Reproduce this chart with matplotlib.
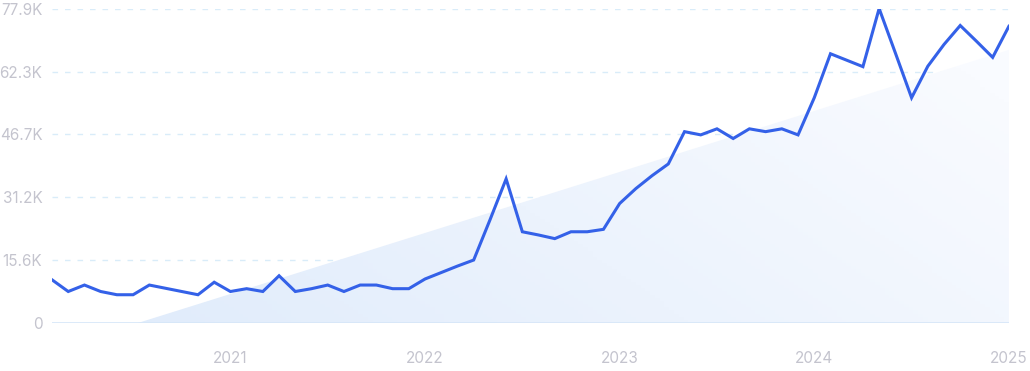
import matplotlib.pyplot as plt
import numpy as np
from matplotlib.patches import Polygon
from matplotlib.colors import LinearSegmentedColormap

plt.rcParams['font.family'] = ['Inter', 'DejaVu Sans']

# monthly values, Feb 2020 .. Jan 2025 (thousands)
months = np.arange(60)
values = [10.7, 7.8, 9.4, 7.8, 7.0, 7.0, 9.4, 8.6, 7.8, 7.0, 10.1,
          7.8, 8.5, 7.8, 11.7, 7.8, 8.5, 9.4, 7.8, 9.4, 9.4, 8.5, 8.5,
          10.9, 12.5, 14.1, 15.6, 25.5, 35.7, 22.6, 21.8, 20.9, 22.6, 22.6, 23.2,
          29.6, 33.3, 36.5, 39.4, 47.4, 46.6, 48.1, 45.7, 48.1, 47.4, 48.1, 46.6,
          55.8, 66.7, 65.1, 63.5, 77.9, 66.9, 55.8, 63.6, 69.0, 73.7, 69.8, 65.8,
          73.5]
year_pos = [11, 23, 35, 47, 59]
year_labels = ['2021', '2022', '2023', '2024', '2025']
ymax = 77.9
yticks = [0, 15.6, 31.2, 46.7, 62.3, 77.9]
ytick_labels = ['0', '15.6K', '31.2K', '46.7K', '62.3K', '77.9K']

vals = np.array(values)

fig = plt.figure(figsize=(10.30, 3.71), dpi=100)
ax = fig.add_axes([0.0505, 0.1294, 0.929, 0.8476])

# trend wedge (linear fit, clipped at zero)
k, b = np.polyfit(months, vals, 1)
x0 = -b / k
x1 = months[-1]
poly = Polygon([(x0, 0), (x1, k * x1 + b), (x1, 0)], closed=True,
               facecolor='none', edgecolor='none')
ax.add_patch(poly)
cmap = LinearSegmentedColormap.from_list('g', ['#dfebfb', '#f9fbff'])
gx, gy = np.meshgrid(np.linspace(0, 1, 200), np.linspace(0, 1, 100))
grad = 0.75 * gx + 0.35 * (1 - gy)
im = ax.imshow(grad, cmap=cmap, extent=[months[0], months[-1], 0, ymax],
               origin='upper', aspect='auto', zorder=1, vmin=0, vmax=1)
im.set_clip_path(poly)

for t in yticks[1:]:
    ax.axhline(t, color='#d9ecf9', lw=1, ls=(0, (4, 5)), zorder=0.5)
ax.axhline(0, color='#d6e6f8', lw=1.2, zorder=2)

ax.plot(months, vals, color='#3461e8', lw=2.2, zorder=3, solid_joinstyle='miter')

ax.set_xlim(months[0], months[-1])
ax.set_ylim(0, ymax)
ax.set_xticks(year_pos)
ax.set_xticklabels(year_labels)
ax.set_yticks(yticks)
ax.set_yticklabels(ytick_labels)
ax.tick_params(length=0, labelsize=11, labelcolor='#c4c4ce')
ax.tick_params(axis='x', pad=20)
ax.tick_params(axis='y', pad=7)
for s in ax.spines.values():
    s.set_visible(False)

fig.savefig('out.png', dpi=100)
